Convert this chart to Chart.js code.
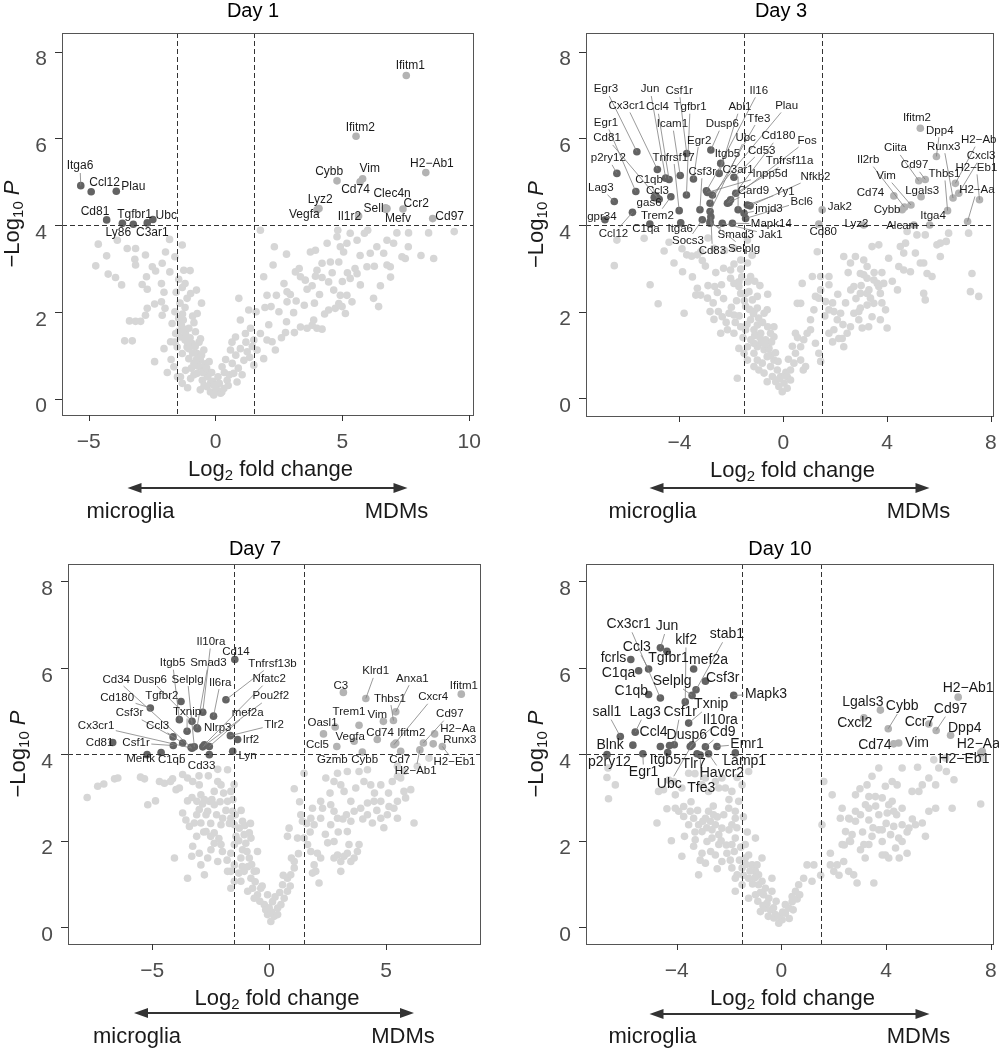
<!DOCTYPE html>
<html>
<head>
<meta charset="utf-8">
<script src="https://cdn.jsdelivr.net/npm/chart.js@4.4.1/dist/chart.umd.min.js"></script>
<style>
  html, body { margin: 0; background: #fff; }
  #fig { position: relative; width: 999px; height: 1050px; }
  #fig canvas { position: absolute; }
</style>
</head>
<body>
<div id="fig">
  <canvas id="day1" width="500" height="525" style="left:0;top:0"></canvas>
  <canvas id="day3" width="499" height="525" style="left:500px;top:0"></canvas>
  <canvas id="day7" width="500" height="525" style="left:0;top:525px"></canvas>
  <canvas id="day10" width="499" height="525" style="left:500px;top:525px"></canvas>
</div>
<script>
// thresholds (log2 fold change, -log10 p)
const lfcCuts = [-1.5, 1.5];
const pCut = 4;
const yTicks = [0, 2, 4, 6, 8];

// ---- Day 1 ----
const day1Genes = ['Itga6', 'Ccl12', 'Plau', 'Cd81', 'Ly86', 'Tgfbr1', 'C3ar1', 'Ubc',
  'Ifitm1', 'Ifitm2', 'Cybb', 'Vim', 'Cd74', 'H2-Ab1', 'Lyz2', 'Vegfa', 'Clec4n', 'Sell', 'Mefv', 'Ccr2', 'Il1r2', 'Cd97'];
const day1Lfc = [-5.31, -4.9, -3.91, -4.29, -3.67, -3.24, -2.69, -2.47,
  7.52, 5.54, 4.79, 5.8, 5.7, 8.29, 4.08, 4.0, 6.76, 6.7, 6.72, 7.39, 5.64, 8.56];
const day1LogP = [4.91, 4.77, 4.78, 4.12, 4.04, 4.02, 4.05, 4.13,
  7.45, 6.05, 5.02, 5.07, 5.0, 5.21, 4.38, 4.35, 4.38, 4.4, 4.36, 4.37, 4.21, 4.15];
const day1LabelAt = [[-5.34, 5.36], [-4.37, 4.98], [-3.24, 4.88], [-4.75, 4.31], [-3.83, 3.83], [-3.19, 4.25], [-2.49, 3.83], [-1.94, 4.21],
  [7.68, 7.67], [5.71, 6.25], [4.48, 5.22], [6.08, 5.29], [5.52, 4.81], [8.53, 5.41], [4.13, 4.58], [3.5, 4.23], [6.96, 4.73], [6.23, 4.38], [7.19, 4.15], [7.91, 4.5], [5.28, 4.19], [9.23, 4.19]];
const day1Other = [[-4.62,3.56],[-4.72,3.06],[-4.29,3.29],[-3.87,3.65],[-4.23,2.87],[-3.94,2.79],[-3.7,2.62],[-3.48,3.46],[-3.15,3.46],[-3.18,3.21],[-3.15,3.08],[-2.76,3.31],[-2.49,3.04],[-2.72,2.81],[-2.89,2.63],[-2.69,2.52],[-2.36,2.94],[-2.1,3.12],[-1.81,3.67],[-1.97,3.38],[-1.8,2.92],[-2.13,2.65],[-2.03,2.45],[-2.13,2.23],[-2.4,2.18],[-2.69,2.08],[-1.99,2.08],[-2.1,1.92],[-2.76,1.92],[-3.39,1.79],[-3.15,1.78],[-2.95,1.78],[-3.58,1.33],[-3.28,1.33],[-2.4,0.85],[-2.03,1.15],[-1.77,1.31],[-1.31,3.54],[-1.6,3.27],[-1.25,2.96],[-1.31,2.56],[-0.98,2.42],[-1.12,2.31],[-0.72,1.96],[-1.27,1.81],[-1.71,1.73],[-1.57,1.5],[-1.38,1.42],[-1.18,1.5],[-1.51,1.19],[-1.31,1.04],[-1.64,0.73],[-1.12,1.19],[-0.92,1.27],[-1.05,0.92],[-0.85,0.81],[-0.72,1.04],[-0.59,0.73],[-1.38,0.5],[-0.98,0.46],[-0.72,0.58],[-0.52,0.42],[-0.33,0.27],[-0.39,0.58],[-0.2,0.15],[-0.07,0.08],[-0.59,1.38],[-0.46,1.12],[-0.79,1.54],[-1.05,1.62],[-1.31,0.35],[-1.18,0.65],
  [-1.2,2.1],[-0.9,1.9],[-1.4,2.2],[-1.0,1.4],[-0.8,1.2],[-0.6,0.9],[-0.4,0.8],[-0.3,0.5],[-0.2,0.35],[0.05,0.2],[-0.5,0.6],[-0.7,0.75],[-0.9,1.05],[-1.1,1.3],[-1.25,1.6],[-1.45,1.85],[-1.6,2.0],[-0.1,0.4],[0.1,0.5],[0.4,0.9],[0.5,0.3],
  [-1.45,1.55],[-1.35,1.7],[-1.2,1.35],[-1.05,1.15],[-0.95,0.7],[-0.85,0.55],[-0.75,0.9],[-0.65,1.3],[-0.55,1.0],[-0.45,0.3],[-0.35,0.7],[-0.25,0.85],[-0.15,0.6],[-0.05,0.3],[0.0,0.15],[0.15,0.35],[0.25,0.15],[0.35,0.6],[0.55,0.55],[0.65,1.3],[0.8,1.0],[0.9,0.7],[1.05,0.55],[1.2,1.3],[1.35,0.95],[1.45,1.2],[-1.55,2.45],[-1.45,2.75],[-1.2,2.65],[-1.0,2.95],[-0.75,2.5],[-0.55,2.2],[-0.85,1.75],[-1.3,1.95],[-1.6,1.3],[-1.75,0.9],[-1.9,0.6],[-1.5,0.5],[-1.1,0.25],[-0.6,0.2],
  [0.2,0.12],[0.33,0.23],[0.26,0.73],[0.46,0.42],[0.72,0.58],[0.66,0.81],[0.85,0.38],[0.59,1.12],[0.79,1.42],[0.98,1.81],[0.92,2.31],[1.31,2.04],[1.18,1.5],[1.38,1.62],[0.98,1.15],[1.25,1.08],[1.51,1.35],[1.64,1.12],[1.77,1.5],[1.9,0.92],[2.03,1.35],[2.23,1.31],[2.36,1.12],[1.12,0.88],[1.51,0.77],[1.77,3.88],[2.32,3.5],[2.8,3.33],[2.27,3.08],[1.9,2.81],[2.4,2.38],[2.03,2.38],[2.19,2.12],[2.82,2.23],[3.18,2.25],[3.08,1.98],[2.8,1.77],[3.11,1.52],[2.76,1.52],[3.35,1.65],[3.61,1.62],[3.81,1.69],[4.0,1.62],[4.2,1.6],[3.87,1.81],[4.46,2.04],[4.72,2.08],[4.86,2.19],[4.99,2.12],[5.12,1.96],[4.92,2.38],[5.18,2.38],[5.38,2.23],[4.66,2.5],[4.46,2.69],[4.2,2.79],[3.94,2.82],[3.81,2.6],[3.61,2.52],[3.54,2.73],[3.35,2.81],[3.15,2.92],[4.0,2.96],[4.2,3.12],[4.53,3.15],[4.86,3.15],[3.74,3.38],[3.94,3.42],[4.4,3.58],[4.79,3.73],[4.92,3.5],[5.18,3.58],[5.31,3.81],[5.58,3.65],[5.58,2.88],[5.31,2.77],[5.71,2.62],[5.97,3.04],[6.26,3.05],[6.36,3.5],[6.76,3.65],[7.15,3.82],[7.02,3.58],[7.35,3.27],[7.48,3.23],[6.76,3.08],[6.89,3.04],[6.63,3.35],[6.23,2.31],[6.43,2.12],[7.61,3.82],[8.4,3.82],[8.6,3.23],[9.41,3.85],[6.0,3.88],[5.87,3.81],[4.82,3.88],[5.05,3.38],[2.82,2.46],
  [1.6,2.0],[1.95,2.1],[2.1,1.7],[2.5,2.0],[2.6,1.4],[2.7,2.65],[2.95,2.4],[3.3,3.0],[3.5,2.15],[3.9,2.2],[4.1,2.4],[4.3,1.95],[4.6,2.9],[5.0,2.7],[5.2,2.9],[5.5,3.0],[5.7,3.3],[6.1,3.35],[6.5,2.6],[6.9,2.8],[7.6,3.5],[8.1,3.3]];

// ---- Day 3 ----
const day3Genes = ['Egr3', 'Jun', 'Csf1r', 'Il16', 'Cx3cr1', 'Ccl4', 'Tgfbr1', 'Abl1', 'Plau', 'Egr1', 'Icam1', 'Dusp6', 'Tfe3', 'Cd81', 'Egr2', 'Ubc', 'Cd180', 'Fos', 'Itgb5', 'Cd53', 'Tnfrsf17', 'p2ry12', 'Tnfrsf11a', 'Csf3r', 'C3ar1', 'Inpp5d', 'Nfkb2', 'C1qb', 'Lag3', 'Ccl3', 'Card9', 'Yy1', 'gas6', 'Bcl6', 'jmjd3', 'Trem2', 'gpr34', 'Ccl12', 'C1qa', 'Itga6', 'Mapk14', 'Socs3', 'Smad3', 'Jak1', 'Cd83', 'Selplg',
  'Ifitm2', 'Dpp4', 'Runx3', 'Thbs1', 'H2-Ab', 'Cxcl3', 'H2-Eb1', 'H2-Aa', 'Ciita', 'Cd97', 'Il2rb', 'Vim', 'Lgals3', 'Cd74', 'Cybb', 'Itga4', 'Alcam', 'Lyz2', 'Jak2', 'Cd80'];
const day3Lfc = [-5.64, -4.53, -3.72, -2.41, -4.85, -4.4, -3.73, -2.47, -2.73, -5.68, -3.97, -2.79, -2.82, -4.91, -3.46, -2.82, -2.15, -2.03, -2.96, -1.9, -4.01, -6.41, -1.83, -3.21, -1.74, -2.92, -1.28, -4.85, -6.51, -4.78, -2.09, -1.38, -4.97, -1.45, -1.51, -4.33, -6.87, -5.81, -5.14, -3.95, -1.96, -3.12, -2.82, -2.35, -2.79, -2.82,
  5.28, 5.9, 6.54, 6.33, 6.63, 6.76, 7.56, 7.1, 5.22, 5.47, 4.67, 4.92, 5.31, 4.26, 4.58, 5.64, 5.03, 3.1, 1.5, 1.37];
const day3LogP = [5.69, 5.08, 5.65, 5.42, 5.28, 5.05, 4.69, 5.19, 4.69, 4.77, 5.14, 5.73, 4.5, 4.67, 5.06, 4.31, 4.5, 4.58, 4.79, 5.1, 4.33, 5.19, 4.73, 4.35, 4.35, 4.75, 4.44, 4.62, 4.54, 4.59, 4.52, 4.46, 4.64, 4.15, 4.27, 4.65, 4.12, 4.29, 4.02, 4.05, 4.04, 4.12, 4.04, 4.04, 4.19, 4.08,
  6.23, 5.58, 4.62, 4.33, 4.96, 4.73, 4.58, 4.08, 5.02, 5.05, 4.41, 4.46, 4.65, 4.67, 4.35, 4.0, 4.0, 4.0, 4.35, 4.02];
const day3LabelAt = [[-6.83, 7.13], [-5.13, 7.13], [-4.01, 7.1], [-0.94, 7.1], [-6.03, 6.75], [-4.85, 6.72], [-3.59, 6.72], [-1.67, 6.72], [0.13, 6.75], [-6.83, 6.36], [-4.27, 6.33], [-2.35, 6.33], [-0.94, 6.46], [-6.79, 6.0], [-3.24, 5.95], [-1.45, 6.02], [-0.19, 6.05], [0.92, 5.95], [-2.15, 5.64], [-0.83, 5.72], [-4.23, 5.56], [-6.74, 5.54], [0.24, 5.48], [-3.12, 5.23], [-1.74, 5.27], [-0.51, 5.17], [1.24, 5.12], [-5.17, 5.05], [-7.03, 4.85], [-4.85, 4.79], [-1.15, 4.79], [0.06, 4.77], [-5.17, 4.5], [0.71, 4.54], [-0.55, 4.38], [-4.85, 4.22], [-6.99, 4.19], [-6.54, 3.79], [-5.29, 3.9], [-3.97, 3.9], [-0.46, 4.02], [-3.67, 3.64], [-1.83, 3.77], [-0.49, 3.77], [-2.73, 3.41], [-1.51, 3.46],
  [5.15, 6.48], [6.03, 6.18], [6.18, 5.81], [6.21, 5.18], [7.53, 5.96], [7.62, 5.59], [7.44, 5.32], [7.46, 4.81], [4.32, 5.77], [5.06, 5.38], [3.27, 5.5], [3.96, 5.13], [5.35, 4.79], [3.36, 4.75], [4.0, 4.36], [5.77, 4.21], [4.58, 3.98], [2.82, 4.02], [2.18, 4.42], [1.54, 3.85]];
const day3Other = [[-6.41,3.65],[-5.36,3.69],[-4.59,3.4],[-4.21,3.12],[-3.88,2.92],[-3.72,3.31],[-3.53,3.28],[-3.31,3.31],[-3.18,3.38],[-3.12,3.18],[-2.67,3.46],[-2.26,3.41],[-1.9,3.46],[-1.38,3.65],[-1.64,3.19],[-2.03,2.96],[-1.64,2.98],[-1.38,3.12],[-1.26,2.81],[-1.36,2.69],[-1.71,2.69],[-6.51,3.06],[-5.13,2.62],[-4.82,2.18],[-3.82,1.96],[-3.31,2.54],[-3.37,2.38],[-3.18,2.38],[-2.92,2.31],[-2.64,2.58],[-2.54,2.44],[-2.38,2.62],[-2.03,2.77],[-1.9,2.65],[-1.71,2.58],[-1.64,2.42],[-1.45,2.42],[-1.32,2.46],[-1.19,2.27],[-1.0,2.35],[-1.0,2.08],[-1.13,2.0],[-1.45,2.12],[-1.9,1.92],[-2.09,1.96],[-2.35,1.88],[-2.67,1.82],[-2.82,2.0],[-2.15,1.58],[-2.41,1.5],[-1.9,1.5],[-1.64,1.65],[-1.45,1.58],[-1.26,1.81],[-1.13,1.58],[-1.0,1.69],[-0.87,1.5],[-0.74,1.96],[-0.62,2.04],[-0.49,1.5],[-0.36,1.65],[-0.36,1.42],[-0.68,1.35],[-0.87,1.27],[-1.0,1.19],[-1.13,1.27],[-1.38,1.19],[-1.51,1.04],[-1.71,1.15],[-1.77,0.46],[-1.13,1.04],[-0.74,1.12],[-0.55,1.15],[-0.62,0.96],[-0.49,0.73],[-0.36,0.88],[-0.23,0.65],[-0.1,0.5],[0.03,0.35],[0.15,0.23],[-0.04,0.15],[-0.17,0.27],[-0.29,0.38],[-0.42,0.5],[-0.62,0.38],[-0.74,0.58],[-0.81,0.81],[-1.0,0.88],[-0.94,0.65],[-1.13,0.73],[-1.38,0.88],
  [-2.9,2.6],[-2.7,2.2],[-2.5,2.0],[-2.3,2.3],[-2.2,1.75],[-2.0,2.1],[-1.85,1.75],[-1.8,2.25],[-1.7,1.9],[-1.55,1.4],[-1.5,2.25],[-1.4,1.7],[-1.3,2.05],[-1.25,1.35],[-1.15,1.95],[-1.1,1.45],[-0.95,1.85],[-0.9,1.4],[-0.8,1.75],[-0.7,1.25],[-0.6,1.65],[-0.5,1.0],[-0.45,1.3],[-0.3,1.05],[-0.2,0.85],[-0.15,0.45],[0.1,0.6],[0.2,0.9],[0.35,1.2],[0.55,1.4],[-1.6,2.8],[-1.9,3.1],[-2.3,3.0],[-2.6,2.9],[-3.0,3.05],[-3.5,2.8],[-3.9,3.45],[-4.4,3.6],[-2.9,3.7],[-1.2,3.3],[-0.9,2.6],[-0.6,2.4],[-1.1,2.7],
  [0.15,0.5],[0.28,0.42],[0.28,0.65],[0.41,0.81],[0.47,1.04],[0.47,1.5],[0.67,0.88],[0.77,0.65],[0.86,0.73],[0.67,1.19],[0.79,1.35],[0.92,1.5],[1.05,1.58],[1.24,1.27],[1.37,1.04],[1.44,0.85],[1.05,1.81],[1.18,2.04],[1.24,2.35],[0.67,2.19],[0.54,2.19],[0.73,2.65],[1.12,2.81],[1.44,2.81],[1.76,2.81],[1.76,2.62],[1.44,2.5],[1.37,2.31],[1.63,2.23],[1.76,2.04],[1.95,2.0],[2.21,1.96],[2.08,1.81],[1.95,1.58],[1.76,1.5],[2.14,1.38],[2.33,1.19],[2.27,1.38],[2.46,1.5],[2.59,1.65],[2.72,1.96],[2.91,2.0],[2.91,1.81],[3.04,1.62],[3.29,1.65],[2.97,2.08],[3.23,2.15],[3.36,2.31],[3.49,2.19],[3.74,2.42],[3.68,2.58],[3.62,2.65],[3.49,2.73],[3.23,2.77],[3.1,2.85],[2.97,2.88],[3.23,2.42],[2.97,2.42],[3.87,2.65],[3.94,2.04],[3.74,1.81],[4.0,1.62],[3.42,1.88],[2.72,2.58],[2.33,3.27],[2.59,3.12],[2.78,3.27],[3.1,3.19],[3.23,3.04],[3.42,3.5],[3.68,3.54],[4.06,3.23],[4.51,3.5],[4.71,3.58],[4.64,3.35],[4.45,3.04],[4.64,2.96],[4.9,2.92],[5.09,3.35],[5.28,3.12],[5.41,3.12],[5.54,2.88],[5.73,2.81],[5.41,2.42],[5.47,2.27],[6.05,3.27],[6.05,3.58],[6.28,3.62],[5.92,3.54],[5.15,3.77],[4.77,3.85],[5.47,3.77],[6.37,3.81],[7.14,3.81],[7.27,2.88],[7.21,2.46],[7.53,2.35],[1.31,3.38],
  [1.6,1.9],[1.9,1.3],[2.3,1.7],[2.4,2.2],[2.6,2.5],[2.8,2.3],[3.0,2.6],[3.3,2.5],[3.5,2.9],[3.8,2.9],[4.2,2.7],[4.4,2.5],[3.8,2.2],[2.5,2.9],[2.1,2.4],[1.9,2.2]];

// ---- Day 7 ----
const day7Genes = ['Il10ra', 'Cd14', 'Itgb5', 'Smad3', 'Tnfrsf13b', 'Cd34', 'Dusp6', 'Selplg', 'Il6ra', 'Nfatc2', 'Cd180', 'Tgfbr2', 'Pou2f2', 'Csf3r', 'Txnip', 'mef2a', 'Cx3cr1', 'Ccl3', 'Nlrp3', 'Tlr2', 'Cd81', 'Csf1r', 'Irf2', 'Mertk', 'C1qb', 'Cd33', 'Lyn',
  'C3', 'Klrd1', 'Anxa1', 'Ifitm1', 'Thbs1', 'Cxcr4', 'Trem1', 'Vim', 'Cd97', 'Oasl1', 'Cd74', 'Ifitm2', 'H2-Aa', 'Vegfa', 'Ccl5', 'Runx3', 'Gzmb', 'Cybb', 'Cd7', 'H2-Eb1', 'H2-Ab1'];
const day7Lfc = [-2.84, -1.47, -3.84, -3.09, -1.85, -3.34, -3.3, -3.2, -2.38, -2.77, -5.08, -3.77, -2.84, -4.11, -3.51, -2.56, -3.3, -3.7, -3.06, -1.66, -6.69, -4.1, -1.35, -5.22, -4.62, -2.56, -1.56,
  3.17, 4.13, 5.41, 8.21, 5.31, 5.33, 3.84, 4.88, 6.59, 2.82, 4.62, 5.41, 7.07, 3.63, 2.32, 7.01, 2.89, 3.98, 5.62, 7.4, 6.44];
const day7LogP = [4.97, 6.19, 4.8, 4.61, 5.26, 4.16, 4.76, 4.17, 4.88, 4.22, 5.07, 5.22, 4.17, 4.4, 4.53, 4.18, 4.14, 4.26, 4.59, 4.43, 4.27, 4.2, 4.34, 3.99, 4.04, 3.99, 4.07,
  5.43, 5.29, 4.98, 5.39, 4.78, 4.22, 4.67, 4.76, 4.26, 4.63, 4.34, 4.26, 4.47, 4.3, 4.47, 4.24, 4.18, 4.05, 4.07, 4.18, 4.1];
const day7LabelAt = [[-2.49, 6.6], [-1.42, 6.36], [-4.13, 6.11], [-2.6, 6.11], [0.14, 6.09], [-6.54, 5.73], [-5.08, 5.73], [-3.49, 5.73], [-2.09, 5.66], [0.0, 5.74], [-6.5, 5.31], [-4.59, 5.34], [0.07, 5.34], [-5.97, 4.95], [-3.51, 4.98], [-0.92, 4.95], [-7.4, 4.65], [-4.77, 4.65], [-2.2, 4.61], [0.21, 4.68], [-7.25, 4.26], [-5.69, 4.26], [-0.78, 4.34], [-5.5, 3.89], [-4.17, 3.87], [-2.89, 3.72], [-0.92, 3.97],
  [3.06, 5.59], [4.55, 5.92], [6.12, 5.75], [8.32, 5.59], [5.16, 5.29], [7.01, 5.32], [3.41, 4.97], [4.62, 4.9], [7.72, 4.93], [2.28, 4.72], [4.74, 4.49], [6.07, 4.49], [8.07, 4.58], [3.46, 4.4], [2.06, 4.22], [8.15, 4.34], [2.7, 3.87], [4.08, 3.87], [5.58, 3.87], [7.92, 3.82], [6.26, 3.62]];
const day7Other = [[-7.78,3.0],[-7.33,3.26],[-7.07,3.31],[-6.61,3.43],[-6.47,3.45],[-5.5,3.47],[-5.33,3.43],[-5.19,2.83],[-4.86,2.92],[-4.69,3.37],[-4.48,3.33],[-4.22,3.37],[-4.13,3.43],[-3.98,3.18],[-3.84,3.22],[-3.7,3.53],[-3.49,3.45],[-3.27,3.37],[-2.99,3.29],[-2.92,3.06],[-2.77,2.95],[-2.56,2.91],[-2.35,3.14],[-2.2,3.37],[-2.06,3.29],[-1.78,3.64],[-1.64,3.14],[-1.78,2.91],[-1.56,2.68],[-2.35,2.83],[-2.63,2.68],[-2.99,2.72],[-3.09,2.91],[-3.49,2.92],[-3.7,2.64],[-3.56,2.48],[-3.41,2.33],[-3.2,2.41],[-2.92,2.41],[-2.7,2.21],[-2.35,2.18],[-2.06,2.37],[-1.99,2.52],[-1.64,2.52],[-1.49,2.37],[-1.42,2.1],[-1.28,2.29],[-1.14,2.45],[-1.07,2.14],[-0.85,2.18],[-1.49,1.91],[-1.64,1.71],[-2.06,1.91],[-2.35,1.94],[-2.49,1.79],[-2.63,1.6],[-2.99,1.71],[-3.27,1.87],[-3.31,1.64],[-2.92,1.44],[-2.2,1.52],[-1.78,1.29],[-1.49,1.44],[-1.21,1.6],[-1.07,1.29],[-0.78,1.13],[-0.71,0.9],[-0.5,0.75],[-0.21,0.52],[-0.07,0.29],[0.07,0.13],[0.21,0.25],[0.36,0.44],[0.14,0.59],[-0.07,0.75],[-0.36,0.9],[-0.64,0.67],[-0.92,0.83],[-1.21,1.06],[-1.49,1.06],[-1.64,0.9],[-1.64,1.29],[-0.85,1.6],[-0.64,1.29],[-0.5,1.75],[-1.0,1.94],[-1.14,1.79],[-0.78,2.06],[-3.49,1.13],[-4.05,1.6],[-2.77,1.21],
  [-3.3,3.0],[-3.1,2.6],[-2.85,2.85],[-2.7,2.6],[-2.5,2.4],[-2.45,2.95],[-2.25,2.6],[-2.1,2.9],[-1.95,3.1],[-1.85,2.7],[-1.7,2.4],[-1.55,2.95],[-1.45,2.6],[-1.3,2.0],[-1.2,2.7],[-1.15,1.4],[-0.95,1.75],[-0.9,1.4],[-0.75,1.45],[-0.6,1.05],[-0.55,1.3],[-0.4,0.6],[-0.3,0.95],[-0.15,0.4],[0.0,0.45],[0.1,0.35],[0.25,0.7],[0.45,0.8],[-1.3,1.25],[-1.8,1.55],[-2.0,1.75],[-2.15,2.05],[-2.5,2.1],[-2.8,2.2],[-3.1,2.1],[-1.05,2.35],[-0.8,2.4],[-2.2,3.65],[-2.6,3.5],[-3.0,3.5],[-1.5,3.3],
  [0.36,0.29],[0.5,0.52],[0.64,0.67],[0.78,0.83],[0.57,0.98],[0.78,1.13],[0.92,1.21],[1.07,1.37],[1.07,1.52],[0.85,2.29],[1.21,2.06],[0.78,2.1],[1.07,3.2],[1.35,2.6],[1.42,2.45],[1.49,2.06],[1.64,1.91],[1.78,1.75],[1.92,1.44],[1.99,1.29],[2.13,1.02],[2.2,1.6],[2.06,1.71],[1.85,1.25],[1.92,2.37],[1.85,2.75],[1.78,2.52],[2.2,2.52],[2.28,2.75],[2.63,2.37],[2.63,2.83],[2.77,2.68],[2.92,2.52],[2.77,1.98],[2.92,1.67],[3.06,1.52],[3.2,1.64],[3.34,1.71],[3.49,1.52],[3.63,1.6],[3.77,1.75],[3.41,1.91],[3.84,1.91],[2.77,1.6],[3.06,1.29],[3.34,2.21],[3.49,2.45],[3.63,2.68],[3.91,2.75],[4.2,2.87],[4.48,2.91],[4.77,2.91],[4.2,2.6],[4.41,2.41],[4.77,2.52],[5.05,2.6],[5.33,2.75],[5.48,2.91],[5.12,2.79],[5.83,2.99],[6.19,2.41],[5.48,2.52],[3.49,2.91],[3.2,3.14],[3.06,3.29],[3.7,3.22],[4.05,3.37],[4.34,3.29],[4.77,3.29],[5.26,3.37],[5.48,3.49],[5.62,3.45],[5.76,3.14],[6.05,3.18],[2.77,3.37],[2.42,3.45],[2.92,3.56],[3.34,3.6],[3.84,3.6],[4.2,3.64],[5.48,3.72],[5.76,3.6],[6.33,3.72],[6.83,3.91],[1.49,3.56],[2.2,2.91],
  [0.95,1.6],[1.25,1.7],[1.6,2.4],[1.75,2.2],[2.4,2.15],[2.5,1.95],[2.95,2.2],[3.15,2.5],[3.3,2.6],[4.0,2.5],[4.6,2.7],[4.5,3.1],[5.1,3.1],[4.9,2.3],[2.6,3.1],[1.3,2.9],[0.6,1.2],[0.9,0.95]];

// ---- Day 10 ----
const day10Genes = ['Cx3cr1', 'Jun', 'klf2', 'stab1', 'Ccl3', 'fcrls', 'Tgfbr1', 'mef2a', 'C1qa', 'Selplg', 'Csf3r', 'Mapk3', 'C1qb', 'Txnip', 'sall1', 'Lag3', 'Csf1r', 'Il10ra', 'Ccl4', 'Dusp6', 'Cd9', 'Blnk', 'Emr1', 'p2ry12', 'Itgb5', 'Tlr7', 'Lamp1', 'Egr1', 'Havcr2', 'Ubc', 'Tfe3',
  'Lgals3', 'Cybb', 'Cxcl2', 'Ccr7', 'Cd97', 'H2-Ab1', 'Dpp4', 'Cd74', 'Vim', 'H2-Aa', 'H2-Eb1'];
const day10Lfc = [-4.62, -4.62, -3.67, -3.26, -5.07, -5.75, -4.37, -3.35, -5.45, -3.41, -2.9, -1.82, -5.07, -3.54, -6.15, -5.58, -4.09, -3.48, -4.62, -4.27, -2.9, -5.67, -2.46, -6.66, -4.34, -3.22, -1.76, -5.29, -2.78, -3.41, -3.1,
  3.78, 4.08, 3.15, 5.63, 5.91, 6.75, 6.46, 4.29, 4.48, 7.67, 7.61];
const day10LogP = [5.3, 6.46, 5.21, 5.49, 5.97, 6.19, 6.38, 5.97, 5.93, 5.36, 5.69, 5.36, 5.38, 4.72, 4.41, 4.51, 4.22, 4.18, 4.18, 4.2, 4.17, 4.21, 4.18, 3.99, 4.04, 4.01, 4.03, 4.01, 4.01, 4.22, 3.98,
  5.02, 4.59, 4.84, 4.7, 4.55, 5.32, 4.44, 4.24, 4.26, 4.07, 4.03];
const day10LabelAt = [[-5.83, 7.0], [-4.37, 6.96], [-3.64, 6.65], [-2.08, 6.77], [-5.52, 6.47], [-6.41, 6.23], [-4.31, 6.23], [-2.78, 6.17], [-6.22, 5.88], [-4.17, 5.69], [-2.24, 5.75], [-0.59, 5.39], [-5.73, 5.46], [-2.68, 5.16], [-6.66, 4.98], [-5.2, 4.98], [-3.86, 4.98], [-2.33, 4.78], [-4.88, 4.51], [-3.61, 4.45], [-2.24, 4.51], [-6.54, 4.22], [-1.31, 4.24], [-6.57, 3.82], [-4.43, 3.87], [-3.35, 3.78], [-1.4, 3.85], [-5.26, 3.58], [-2.27, 3.56], [-4.28, 3.31], [-3.06, 3.22],
  [3.11, 5.21], [4.61, 5.11], [2.8, 4.72], [5.27, 4.75], [6.46, 5.05], [7.13, 5.53], [7.0, 4.61], [3.57, 4.22], [5.18, 4.26], [7.52, 4.24], [6.97, 3.89]];
const day10Other = [[-6.66,3.46],[-6.6,2.97],[-6.34,3.29],[-6.62,3.68],[-4.75,2.41],[-4.5,3.18],[-4.37,2.74],[-4.69,3.14],[-3.8,1.64],[-4.11,3.37],[-3.54,3.56],[-3.8,3.22],[-4.05,3.06],[-3.92,2.68],[-3.73,2.79],[-3.48,2.68],[-3.35,2.52],[-3.54,2.37],[-3.73,2.56],[-3.16,1.21],[-3.16,2.37],[-3.03,2.21],[-2.9,2.52],[-2.78,2.68],[-2.71,2.45],[-2.59,2.6],[-2.52,2.37],[-2.39,2.14],[-2.27,2.29],[-2.39,1.91],[-2.65,2.06],[-2.84,1.98],[-3.03,1.71],[-3.29,2.02],[-3.35,1.87],[-2.9,1.48],[-2.52,1.67],[-2.27,1.52],[-2.08,1.71],[-1.89,1.91],[-1.76,2.06],[-1.89,2.37],[-1.76,2.52],[-2.01,2.75],[-1.76,2.68],[-1.63,2.91],[-1.89,3.14],[-2.14,3.22],[-1.5,3.29],[-1.25,3.6],[-1.69,3.46],[-2.39,3.22],[-2.78,3.14],[-3.03,3.29],[-2.52,3.37],[-2.27,3.45],[-1.89,1.37],[-1.69,1.21],[-1.5,1.37],[-1.38,1.6],[-1.25,1.67],[-1.12,1.44],[-0.99,1.29],[-1.25,1.13],[-1.5,0.98],[-1.76,1.13],[-0.8,0.36],[-0.61,0.44],[-0.48,0.67],[-0.36,0.83],[-0.61,0.9],[-0.87,0.98],[-0.99,0.75],[-0.29,0.21],[-0.1,0.09],[0.03,0.17],[0.15,0.32],[0.28,0.44],[0.41,0.59],[0.54,0.83],[0.66,0.98],[0.41,0.71],[0.15,0.52],[-0.23,0.29],[-0.42,0.4],[-0.68,0.75],[-0.74,1.06],[-0.36,1.13],[-0.87,1.21],[-0.93,1.44],[-1.25,0.67],[-1.76,0.83],[-0.99,2.06],[-1.38,1.91],[-0.74,1.6],[-4.05,2.75],
  [-3.45,2.9],[-3.2,2.7],[-3.0,2.45],[-2.85,2.3],[-2.65,2.25],[-2.6,2.8],[-2.45,2.55],[-2.3,2.0],[-2.2,2.6],[-2.1,1.9],[-2.0,2.25],[-1.95,1.55],[-1.8,1.75],[-1.7,2.3],[-1.6,1.55],[-1.55,1.85],[-1.45,1.2],[-1.35,1.45],[-1.2,1.3],[-1.1,1.0],[-1.0,1.15],[-0.9,0.6],[-0.8,0.8],[-0.7,0.5],[-0.55,0.55],[-0.5,0.25],[-0.3,0.45],[-0.2,0.6],[-0.1,0.25],[0.05,0.35],[0.3,0.2],[0.45,0.4],[0.6,0.65],[0.7,0.75],[-2.0,2.95],[-2.7,1.75],[-3.1,1.55],[-2.45,1.35],[-3.3,2.2],[-3.7,2.1],[-4.2,2.0],[-4.3,3.4],[-3.3,3.55],[-2.9,3.45],[-1.45,2.55],[-1.3,2.2],
  [0.98,1.44],[1.24,1.44],[0.85,1.13],[1.17,1.06],[1.87,1.44],[2.0,1.29],[2.13,1.44],[2.38,1.52],[2.57,1.29],[2.76,1.21],[2.89,1.02],[3.53,1.02],[2.32,1.91],[2.7,2.14],[2.45,2.21],[2.64,1.98],[2.83,2.45],[3.02,1.79],[3.15,1.91],[3.34,1.91],[3.46,2.1],[3.72,2.25],[3.85,1.98],[3.97,1.67],[3.85,1.67],[4.1,1.6],[4.36,1.83],[4.61,1.98],[4.8,1.71],[4.48,2.06],[4.17,2.14],[3.85,2.25],[4.29,2.33],[4.61,2.37],[4.87,2.29],[5.12,2.37],[5.38,2.41],[5.5,2.1],[5.63,2.68],[4.61,2.75],[4.29,2.68],[4.1,2.83],[4.23,2.91],[3.85,2.99],[3.59,3.02],[3.34,2.75],[3.21,2.83],[3.02,2.6],[2.83,2.68],[2.57,2.52],[3.34,2.48],[3.72,2.6],[4.04,2.64],[3.34,3.02],[3.27,3.29],[3.46,3.49],[3.97,3.26],[4.23,3.37],[4.42,3.29],[4.61,3.68],[4.99,3.14],[5.25,3.14],[5.38,3.29],[5.63,3.45],[5.89,3.29],[6.01,3.68],[5.82,3.87],[6.27,3.91],[6.59,3.41],[6.52,2.75],[5.89,2.75],[7.61,2.85],[7.67,3.91],[3.72,3.68],[1.62,3.37],[1.94,3.06],[2.32,2.75],[2.83,3.06],[1.87,1.71],[1.55,2.37],[2.25,2.52],
  [1.5,1.2],[2.2,1.2],[2.4,1.9],[2.6,2.5],[3.1,2.2],[3.5,2.3],[3.6,2.8],[4.0,2.4],[4.4,2.6],[4.8,2.2],[5.0,2.5],[3.0,3.2],[2.6,2.0],[3.2,1.6],[4.5,1.6],[6.3,3.6],[5.2,3.7]];

const FONT = '"Liberation Sans", Arial, Helvetica, sans-serif';
const minus = s => String(s).replace('-', '\u2212');

function fontOf(p) {
  return (p.italic ? 'italic ' : '') + p.size + 'px ' + FONT;
}

// draws a row of text pieces centred on x, baseline y
function richText(ctx, parts, x, y) {
  let total = 0;
  parts.forEach(p => { ctx.font = fontOf(p); p.w = ctx.measureText(p.text).width; total += p.w; });
  let cx = x - total / 2;
  ctx.textAlign = 'left';
  ctx.textBaseline = 'alphabetic';
  parts.forEach(p => { ctx.font = fontOf(p); ctx.fillText(p.text, cx, y + (p.dy || 0)); cx += p.w; });
}

function decorPlugin(panel) {
  return {
    id: 'decor',
    afterDatasetsDraw(chart) {
      const { ctx, chartArea: a, scales: { x, y } } = chart;
      ctx.save();
      ctx.strokeStyle = '#333';
      ctx.lineWidth = 1;
      ctx.setLineDash([5, 3]);
      ctx.beginPath();
      lfcCuts.forEach(v => {
        const px = Math.round(x.getPixelForValue(v)) + 0.5;
        ctx.moveTo(px, a.top); ctx.lineTo(px, a.bottom);
      });
      const py = Math.round(y.getPixelForValue(pCut)) + 0.5;
      ctx.moveTo(a.left, py); ctx.lineTo(a.right, py);
      ctx.stroke();
      ctx.restore();
    },
    afterDraw(chart) {
      const { ctx, chartArea: a, scales: { x, y } } = chart;
      ctx.save();

      // frame
      ctx.strokeStyle = '#555';
      ctx.lineWidth = 1;
      ctx.strokeRect(Math.round(a.left) + 0.5, Math.round(a.top) + 0.5, Math.round(a.right - a.left), Math.round(a.bottom - a.top));

      // ticks and tick labels
      ctx.strokeStyle = '#333';
      ctx.fillStyle = '#4d4d4d';
      ctx.font = '21px ' + FONT;
      ctx.beginPath();
      panel.xTicks.forEach(v => {
        const px = Math.round(x.getPixelForValue(v)) + 0.5;
        ctx.moveTo(px, a.bottom); ctx.lineTo(px, a.bottom + 6);
      });
      yTicks.forEach(v => {
        const py = Math.round(y.getPixelForValue(v)) + 0.5;
        ctx.moveTo(a.left - 7, py); ctx.lineTo(a.left, py);
      });
      ctx.stroke();
      ctx.textAlign = 'center';
      ctx.textBaseline = 'alphabetic';
      panel.xTicks.forEach(v => ctx.fillText(minus(v), x.getPixelForValue(v), a.bottom + 33));
      ctx.textAlign = 'right';
      ctx.textBaseline = 'middle';
      yTicks.forEach(v => ctx.fillText(minus(v), a.left - 15, y.getPixelForValue(v) + 8));

      // gene labels with leader lines
      const fs = panel.labelSize;
      ctx.font = fs + 'px ' + FONT;
      ctx.textAlign = 'center';
      ctx.textBaseline = 'middle';
      panel.genes.forEach((g, i) => {
        const name = g.replace('-', '\u2212');
        const px = x.getPixelForValue(panel.lfc[i]);
        const py = y.getPixelForValue(panel.logP[i]);
        const lx = x.getPixelForValue(panel.labelAt[i][0]);
        const ly = y.getPixelForValue(panel.labelAt[i][1]);
        const hw = ctx.measureText(name).width / 2 + 1.5;
        const hh = fs * 0.45 + 1.5;
        const dx = px - lx, dy = py - ly;
        const s = Math.min(dx ? hw / Math.abs(dx) : Infinity, dy ? hh / Math.abs(dy) : Infinity);
        if (s < 1) {
          const ex = lx + dx * s, ey = ly + dy * s;
          if (Math.hypot(px - ex, py - ey) > 9) {
            ctx.strokeStyle = '#808080';
            ctx.lineWidth = 0.8;
            ctx.beginPath();
            ctx.moveTo(ex, ey); ctx.lineTo(px, py);
            ctx.stroke();
          }
        }
        ctx.fillStyle = '#1a1a1a';
        ctx.fillText(name, lx, ly);
      });

      const cx = (a.left + a.right) / 2;
      const cy = (a.top + a.bottom) / 2;

      // title
      ctx.fillStyle = '#000';
      richText(ctx, [{ text: panel.title, size: 20 }], panel.titleX, panel.titleY);

      // x axis title
      ctx.fillStyle = '#1a1a1a';
      richText(ctx, [
        { text: 'Log', size: 22 },
        { text: '2', size: 15, dy: 4 },
        { text: ' fold change', size: 22 }
      ], cx + 3, a.bottom + 61);

      // y axis title
      ctx.save();
      ctx.translate(a.left - 43, cy);
      ctx.rotate(-Math.PI / 2);
      richText(ctx, [
        { text: '\u2212Log', size: 22 },
        { text: '10', size: 15, dy: 4 },
        { text: ' ', size: 22 },
        { text: 'P', size: 22, italic: true }
      ], 0, 0);
      ctx.restore();

      // direction arrow
      const ay = panel.arrowY;
      const x0 = cx - 140, x1 = cx + 140;
      ctx.strokeStyle = '#333';
      ctx.fillStyle = '#333';
      ctx.lineWidth = 2;
      ctx.beginPath();
      ctx.moveTo(x0 + 8, ay); ctx.lineTo(x1 - 8, ay);
      ctx.stroke();
      ctx.beginPath();
      ctx.moveTo(x0, ay); ctx.lineTo(x0 + 14, ay - 5); ctx.lineTo(x0 + 14, ay + 5); ctx.closePath();
      ctx.moveTo(x1, ay); ctx.lineTo(x1 - 14, ay - 5); ctx.lineTo(x1 - 14, ay + 5); ctx.closePath();
      ctx.fill();

      ctx.fillStyle = '#1a1a1a';
      richText(ctx, [{ text: 'microglia', size: 22 }], x0 + 3, 518);
      richText(ctx, [{ text: 'MDMs', size: 22 }], x1 - 11, 518);

      ctx.restore();
    }
  };
}

const panels = [
  { id: 'day1', title: 'Day 1', genes: day1Genes, lfc: day1Lfc, logP: day1LogP, labelAt: day1LabelAt, other: day1Other,
    box: { left: 62, right: 473, top: 33, bottom: 415 }, xMin: -6.05, xMax: 10.15, yMin: -0.38, yMax: 8.43,
    xTicks: [-5, 0, 5, 10], titleX: 253, titleY: 17, arrowY: 488, labelSize: 12 },
  { id: 'day3', title: 'Day 3', genes: day3Genes, lfc: day3Lfc, logP: day3LogP, labelAt: day3LabelAt, other: day3Other,
    box: { left: 86, right: 493, top: 33, bottom: 416 }, xMin: -7.6, xMax: 8.08, yMin: -0.41, yMax: 8.43,
    xTicks: [-4, 0, 4, 8], titleX: 281, titleY: 17, arrowY: 488, labelSize: 11.5 },
  { id: 'day7', title: 'Day 7', genes: day7Genes, lfc: day7Lfc, logP: day7LogP, labelAt: day7LabelAt, other: day7Other,
    box: { left: 68, right: 480, top: 39, bottom: 419 }, xMin: -8.6, xMax: 9.01, yMin: -0.39, yMax: 8.4,
    xTicks: [-5, 0, 5], titleX: 255, titleY: 30, arrowY: 488, labelSize: 11.5 },
  { id: 'day10', title: 'Day 10', genes: day10Genes, lfc: day10Lfc, logP: day10LogP, labelAt: day10LabelAt, other: day10Other,
    box: { left: 86, right: 493, top: 39, bottom: 419 }, xMin: -7.46, xMax: 8.08, yMin: -0.39, yMax: 8.4,
    xTicks: [-4, 0, 4, 8], titleX: 280, titleY: 30, arrowY: 489, labelSize: 14 }
];

panels.forEach(panel => {
  const canvas = document.getElementById(panel.id);
  const pts = idx => idx.map(i => ({ x: panel.lfc[i], y: panel.logP[i] }));
  const all = panel.genes.map((g, i) => i);
  const down = all.filter(i => panel.lfc[i] < 0);
  const up = all.filter(i => panel.lfc[i] >= 0);
  const b = panel.box;

  new Chart(canvas, {
    type: 'scatter',
    data: {
      datasets: [
        { data: panel.other.map(([x, y]) => ({ x, y })), backgroundColor: '#d6d6d6', pointRadius: 3.8, borderWidth: 0, order: 3 },
        { data: pts(up), backgroundColor: '#b3b3b3', pointRadius: 3.8, borderWidth: 0, order: 2 },
        { data: pts(down), backgroundColor: '#636363', pointRadius: 3.8, borderWidth: 0, order: 1 }
      ]
    },
    options: {
      responsive: false,
      animation: false,
      events: [],
      layout: { padding: { left: b.left, right: canvas.width - b.right, top: b.top, bottom: canvas.height - b.bottom } },
      scales: {
        x: { type: 'linear', display: false, min: panel.xMin, max: panel.xMax },
        y: { type: 'linear', display: false, min: panel.yMin, max: panel.yMax }
      },
      plugins: { legend: { display: false }, tooltip: { enabled: false } }
    },
    plugins: [decorPlugin(panel)]
  });
});
</script>
</body>
</html>
